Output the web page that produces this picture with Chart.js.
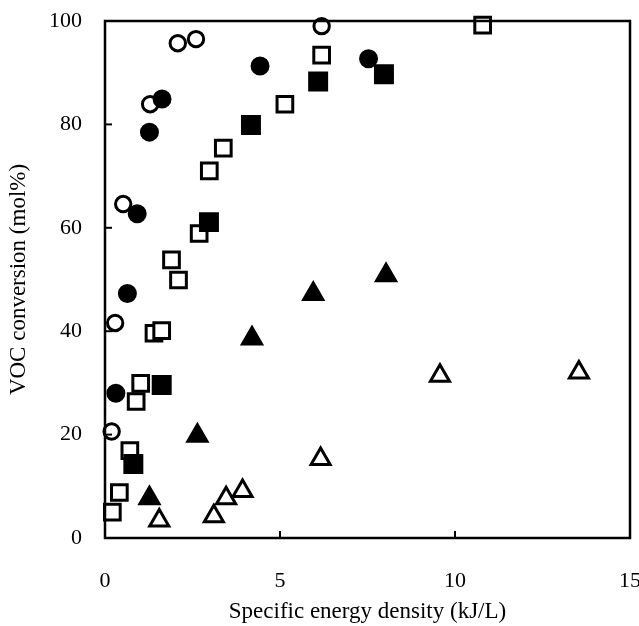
<!DOCTYPE html>
<html>
<head>
<meta charset="utf-8">
<script src="https://cdn.jsdelivr.net/npm/chart.js@4.4.1/dist/chart.umd.min.js"></script>
<style>
  html, body { margin: 0; padding: 0; background: #fff; overflow: hidden; }
  #wrap { width: 639px; height: 626px; position: relative; }
  #wrap canvas { display: block; }
</style>
</head>
<body>
<div id="wrap"><canvas id="chart"></canvas></div>
<script>
// ---------- data ----------
const openCircles = [[0.19, 20.6], [0.29, 41.6], [0.52, 64.6], [1.29, 83.9], [2.08, 95.7], [2.6, 96.5], [6.19, 99.0]];
const filledCircles = [[0.31, 28.0], [0.64, 47.3], [0.92, 62.7], [1.27, 78.5], [1.63, 84.9], [4.43, 91.3], [7.53, 92.7]];
const openSquares = [[0.21, 5.0], [0.41, 8.8], [0.71, 16.9], [0.89, 26.4], [1.02, 29.9], [1.4, 39.6], [1.62, 40.1],
  [1.9, 53.8], [2.1, 49.9], [2.69, 58.9], [2.98, 71.0], [3.38, 75.4], [5.14, 83.9], [6.19, 93.4], [10.79, 99.2]];
const filledSquares = [[0.81, 14.3], [1.62, 29.6], [2.97, 61.1], [4.17, 79.9], [6.09, 88.3], [7.97, 89.7]];
const filledTriangles = [[1.27, 7.7], [2.64, 19.8], [4.2, 38.6], [5.95, 47.2], [8.03, 50.8]];
const openTriangles = [[1.55, 3.4], [3.11, 4.2], [3.46, 7.7], [3.93, 9.1], [6.16, 15.3], [9.57, 31.4], [13.54, 32.0]];

const xTicks = [0, 5, 10, 15];
const yTicks = [0, 20, 40, 60, 80, 100];

const FONT = "'Liberation Serif', 'Times New Roman', serif";
Chart.defaults.font.family = FONT;
Chart.defaults.color = "#000";

const toXY = (arr) => arr.map(([x, y]) => ({ x, y }));

function series(data, style, radius, filled, bw) {
  return {
    data: toXY(data),
    pointStyle: style,
    pointRadius: radius,
    pointHoverRadius: radius,
    pointBorderWidth: bw,
    pointBorderColor: "#000",
    pointBackgroundColor: filled ? "#000" : "#fff",
    showLine: false,
    clip: false
  };
}

// ---------- inward tick marks + frame ----------
const frameTicks = {
  id: "frameTicks",
  afterDraw(chart) {
    const { ctx, chartArea: a, scales } = chart;
    ctx.save();
    ctx.strokeStyle = "#000";
    ctx.lineWidth = 2;
    yTicks.forEach((v) => {
      const y = scales.y.getPixelForValue(v);
      ctx.beginPath(); ctx.moveTo(a.left, y); ctx.lineTo(a.left + 7, y); ctx.stroke();
    });
    xTicks.forEach((v) => {
      const x = scales.x.getPixelForValue(v);
      ctx.beginPath(); ctx.moveTo(x, a.bottom); ctx.lineTo(x, a.bottom - 7); ctx.stroke();
    });
    ctx.lineWidth = 2.5;
    ctx.strokeRect(a.left, a.top, a.right - a.left, a.bottom - a.top);
    ctx.restore();
  }
};

new Chart(document.getElementById("chart"), {
  type: "scatter",
  data: {
    datasets: [
      series(filledCircles, "circle", 8, true, 3),
      series(filledSquares, "rect", 12.7, true, 2),
      series(filledTriangles, "triangle", 12, true, 2),
      series(openCircles, "circle", 7.7, false, 3),
      series(openSquares, "rect", 11.1, false, 3),
      series(openTriangles, "triangle", 11, false, 3)
    ]
  },
  options: {
    responsive: true,
    maintainAspectRatio: false,
    animation: false,
    layout: { autoPadding: false, padding: { top: 21, right: 9, left: 0, bottom: 0 } },
    plugins: { legend: { display: false }, tooltip: { enabled: false } },
    scales: {
      x: {
        type: "linear",
        min: 0, max: 15,
        afterBuildTicks: (s) => { s.ticks = xTicks.map((v) => ({ value: v })); },
        afterFit: (s) => { s.height = 88; s.paddingLeft = 0; s.paddingRight = 0; },
        grid: { display: false, drawTicks: false },
        border: { display: false },
        ticks: { padding: 30, font: { size: 22 } },
        title: {
          display: true,
          text: "Specific energy density (kJ/L)",
          font: { size: 23 },
          padding: { top: 0, bottom: 0 }
        }
      },
      y: {
        type: "linear",
        min: 0, max: 100,
        afterBuildTicks: (s) => { s.ticks = yTicks.map((v) => ({ value: v })); },
        afterFit: (s) => { s.width = 105; s.paddingTop = 0; s.paddingBottom = 0; },
        grid: { display: false, drawTicks: false },
        border: { display: false },
        ticks: { padding: 23, font: { size: 22 } },
        title: {
          display: true,
          text: "VOC conversion (mol%)",
          font: { size: 23 },
          padding: { top: 5, bottom: 0 }
        }
      }
    }
  },
  plugins: [frameTicks]
});
</script>
</body>
</html>
